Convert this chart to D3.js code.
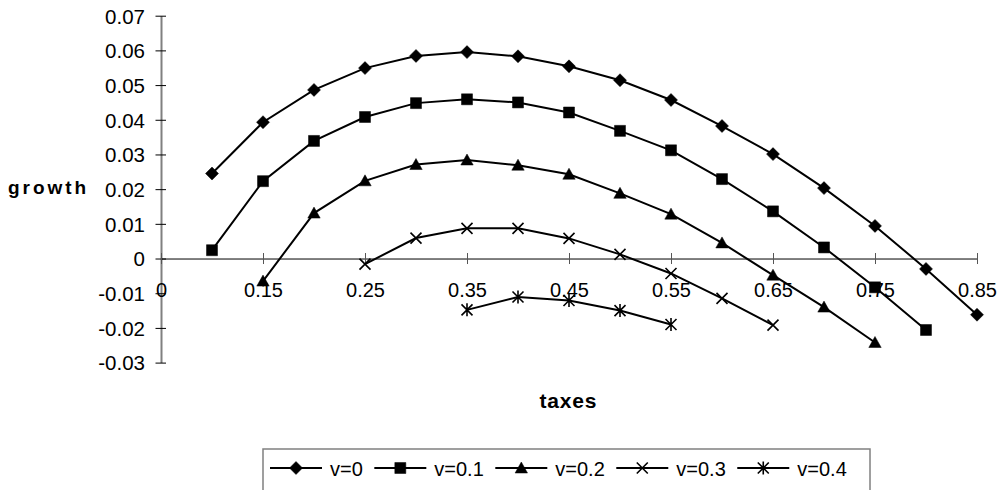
<!DOCTYPE html>
<html>
<head>
<meta charset="utf-8">
<script src="https://cdn.jsdelivr.net/npm/d3@7"></script>
<style>
  html, body { margin: 0; padding: 0; background: #fff; }
  svg { display: block; }
  text { font-family: Arial, "Liberation Sans", sans-serif; fill: #000; }
</style>
</head>
<body>
<script>
// Tax-rate categories along the horizontal axis
const categories = ["0", "0.1", "0.15", "0.2", "0.25", "0.3", "0.35", "0.4", "0.45",
                    "0.5", "0.55", "0.6", "0.65", "0.7", "0.75", "0.8", "0.85"];
// Categories that carry a tick mark and label
const tickLabels = ["0", "0.15", "0.25", "0.35", "0.45", "0.55", "0.65", "0.75", "0.85"];
// Value-axis ticks
const yTicks = [-0.03, -0.02, -0.01, 0, 0.01, 0.02, 0.03, 0.04, 0.05, 0.06, 0.07];

// Growth for each series, aligned with categories (null = no point)
const growthV0  = [null, 0.0245, 0.0393, 0.0486, 0.0549, 0.0584, 0.0595, 0.0583, 0.0554,
                   0.0514, 0.0457, 0.0382, 0.0301, 0.0203, 0.0094, -0.0030, -0.0162];
const growthV01 = [null, 0.0024, 0.0223, 0.0339, 0.0408, 0.0448, 0.0459, 0.0450, 0.0421,
                   0.0368, 0.0312, 0.0229, 0.0136, 0.0032, -0.0083, -0.0206, null];
const growthV02 = [null, null, -0.0065, 0.0131, 0.0224, 0.0271, 0.0284, 0.0269, 0.0243,
                   0.0188, 0.0128, 0.0045, -0.0048, -0.0140, -0.0242, null, null];
const growthV03 = [null, null, null, null, -0.0016, 0.0059, 0.0087, 0.0087, 0.0058,
                   0.0012, -0.0043, -0.0115, -0.0192, null, null, null, null];
const growthV04 = [null, null, null, null, null, null, -0.0148, -0.0111, -0.0121,
                   -0.0150, -0.0190, null, null, null, null, null, null];

const seriesNames = ["v=0", "v=0.1", "v=0.2", "v=0.3", "v=0.4"];
const seriesValues = [growthV0, growthV01, growthV02, growthV03, growthV04];
const seriesMarkers = ["diamond", "square", "triangle", "x", "star"];

const W = 1001, H = 490;
const svg = d3.select("body").append("svg").attr("width", W).attr("height", H);

const x = d3.scalePoint().domain(categories).range([161, 977]).padding(0);
const y = d3.scaleLinear().domain([-0.03, 0.07]).range([362.6, 15.7]);

// Marker path generators, centred on the origin
function markerPath(kind) {
  switch (kind) {
    case "diamond": return "M0,-6.5L6.5,0L0,6.5L-6.5,0Z";
    case "square": return "M-5.5,-5.5H5.5V5.5H-5.5Z";
    case "triangle": return "M0,-6L6.2,5H-6.2Z";
    case "x": return "M-5.5,-5.5L5.5,5.5M5.5,-5.5L-5.5,5.5";
    case "star": return "M-5.5,-5.5L5.5,5.5M5.5,-5.5L-5.5,5.5M0,-6.5V6.5";
  }
}
const filled = k => k === "diamond" || k === "square" || k === "triangle";

function drawMarker(g, kind, cx, cy) {
  g.append("path")
    .attr("d", markerPath(kind))
    .attr("transform", `translate(${cx},${cy})`)
    .attr("fill", filled(kind) ? "#000" : "none")
    .attr("stroke", "#000")
    .attr("stroke-width", filled(kind) ? 0.5 : 1.6);
}

// Value axis (left)
const yAxisG = svg.append("g").attr("transform", "translate(161,0)")
  .call(d3.axisLeft(y).tickValues(yTicks).tickSizeInner(0).tickSizeOuter(0));
yAxisG.select(".domain").attr("stroke", "#808080").attr("stroke-width", 2);
yAxisG.selectAll(".tick text").remove();
yAxisG.selectAll(".tick").append("line")
  .attr("x1", -5.5).attr("x2", 5).attr("stroke", "#000").attr("stroke-width", 1);
yAxisG.selectAll(".tick").append("text")
  .attr("x", -16).attr("dy", "0.36em")
  .attr("text-anchor", "end")
  .style("font-size", "20.5px")
  .text(d => String(+d.toFixed(2)));

// Category axis along y = 0
const xAxisG = svg.append("g").attr("transform", `translate(0,${y(0)})`)
  .call(d3.axisBottom(x).tickValues(tickLabels).tickSizeInner(0).tickSizeOuter(0));
xAxisG.select(".domain").attr("stroke", "#000").attr("stroke-width", 1);
xAxisG.selectAll(".tick text").remove();
xAxisG.selectAll(".tick").append("line")
  .attr("y1", -5.5).attr("y2", 5.5).attr("stroke", "#555").attr("stroke-width", 1);
xAxisG.selectAll(".tick").append("text")
  .attr("y", 38).attr("text-anchor", "middle")
  .style("font-size", "20px")
  .text(d => d);

// Axis titles
svg.append("text").attr("x", 8).attr("y", 194)
  .style("font-size", "19px").style("font-weight", "bold")
  .attr("textLength", 78).attr("lengthAdjust", "spacing")
  .text("growth");
svg.append("text").attr("x", 568).attr("y", 408).attr("text-anchor", "middle")
  .style("font-size", "21px").style("font-weight", "bold")
  .attr("textLength", 57).attr("lengthAdjust", "spacing")
  .text("taxes");

// Series lines and markers
const line = d3.line()
  .defined(d => d.v !== null)
  .x(d => x(d.c))
  .y(d => y(d.v));

seriesValues.forEach((vals, i) => {
  const pts = categories.map((c, j) => ({ c, v: vals[j] }));
  const g = svg.append("g");
  g.append("path").datum(pts.filter(p => p.v !== null))
    .attr("d", line)
    .attr("fill", "none").attr("stroke", "#000").attr("stroke-width", 2);
  pts.filter(p => p.v !== null).forEach(p => drawMarker(g, seriesMarkers[i], x(p.c), y(p.v)));
});

// Legend
const legend = svg.append("g");
legend.append("rect").attr("x", 263).attr("y", 449).attr("width", 607).attr("height", 60)
  .attr("fill", "#fff").attr("stroke", "#808080").attr("stroke-width", 1.5);
let lx = 270;
const ly = 468;
seriesNames.forEach((name, i) => {
  legend.append("line").attr("x1", lx).attr("x2", lx + 52).attr("y1", ly).attr("y2", ly)
    .attr("stroke", "#000").attr("stroke-width", 2);
  drawMarker(legend, seriesMarkers[i], lx + 26, ly);
  const t = legend.append("text").attr("x", lx + 60).attr("y", ly + 7.5)
    .style("font-size", "20px").text(name);
  lx += 60 + t.node().getComputedTextLength() + 11.5;
});
</script>
</body>
</html>
